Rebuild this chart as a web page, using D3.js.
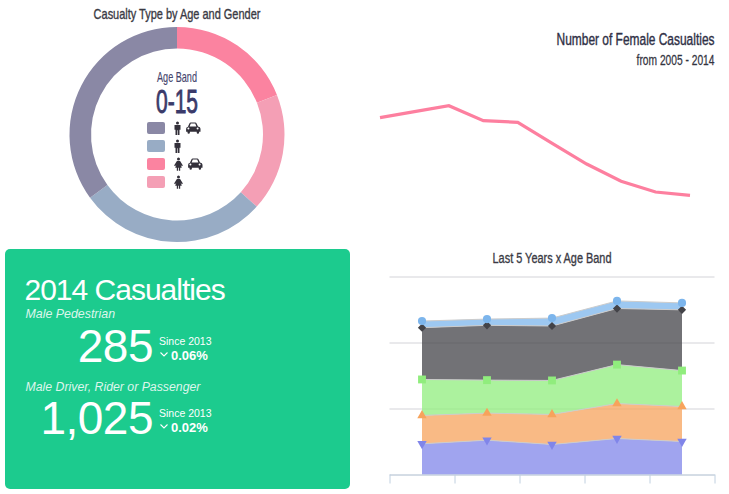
<!DOCTYPE html>
<html>
<head>
<meta charset="utf-8">
<script src="https://cdn.jsdelivr.net/npm/d3@7"></script>
<style>
body { margin: 0; background: #fff; }
svg { display: block; }
.osw { font-family: "Liberation Sans Narrow", "Liberation Sans", sans-serif; }
.ari { font-family: "Liberation Sans", Arial, sans-serif; }
</style>
</head>
<body>
<svg id="chart" width="729" height="494"></svg>
<script>
// donut values, clockwise from the top
var typeNames = ["Female driver, rider or passenger", "Female pedestrian", "Male pedestrian", "Male driver, rider or passenger"];
var typeValues = [19, 17.7, 28.3, 35];
var typeColors = ["#fb83a0", "#f49fb5", "#98acc5", "#8a88a5"];

// female casualties line
var lineYears = [2005, 2006, 2007, 2008, 2009, 2010, 2011, 2012, 2013, 2014];
var femaleCasualties = [1023, 1083, 1143, 993, 977, 767, 560, 387, 280, 247];

// stacked area, bottom series first
var areaYears = [2010, 2011, 2012, 2013, 2014];
var areaBand0 = [930, 1040, 910, 1090, 1000];
var areaBand1 = [860, 820, 910, 1060, 1060];
var areaBand2 = [1090, 1000, 1030, 1180, 1090];
var areaBand3 = [1570, 1660, 1650, 1700, 1840];
var areaBand4 = [200, 190, 240, 230, 210];
var areaColors = ["#8085e9", "#f7a35c", "#90ed7d", "#434348", "#7cb5ec"];
var yTicks = [0, 2000, 4000, 6000];

var svg = d3.select("#chart");

// title text, squeezed sideways to the measured width
function label(x, y, txt, size, anchor, len, color, weight) {
  var t = svg.append("text")
    .attr("class", "osw")
    .attr("text-anchor", anchor)
    .style("font-size", size + "px")
    .style("fill", color)
    .style("stroke", color)
    .style("stroke-width", weight)
    .text(txt);
  var k = len / t.node().getComputedTextLength();
  t.attr("transform", "translate(" + x + "," + y + ") scale(" + k + ",1)");
  return t;
}

// ---- donut
var donut = svg.append("g").attr("transform", "translate(177,134.5)");
var pie = d3.pie().sort(null)(typeValues);
var arc = d3.arc().innerRadius(86).outerRadius(107.5);
donut.selectAll("path")
  .data(pie)
  .enter()
  .append("path")
  .attr("d", arc)
  .attr("fill", function(d, i) { return typeColors[i]; });

label(177, 18.5, "Casualty Type by Age and Gender", 15, "middle", 167, "#3a3a44", 0.35);
label(177, 82, "Age Band", 14, "middle", 40, "#46466e", 0.15);
label(177, 113, "0-15", 33, "middle", 42, "#3a3a6a", 0.9);

// legend, rows run the other way round from the slices
var legendRows = [3, 2, 0, 1];
var legendY = d3.scalePoint().domain(legendRows).range([128, 182]);
var manPath = "M-1.5,-5.6a1.5,1.5 0 1,0 3,0a1.5,1.5 0 1,0 -3,0M-3,-3.4h6v4.6h-1v5.4h-1.7v-4.8h-0.6v4.8h-1.7v-5.4h-1z";
var womanPath = "M-1.5,-5.6a1.5,1.5 0 1,0 3,0a1.5,1.5 0 1,0 -3,0M-1.6,-3.4h3.2l2.8,4.4l-1.1,0.7l-1.2,-1.6l1.2,3.2h-1.6v2.9h-1.3v-2.9h-0.8v2.9h-1.3v-2.9h-1.6l1.2,-3.2l-1.2,1.6l-1.1,-0.7z";
var carPath = "M-5,-1.4l1.4,-3.2q0.4,-1 1.4,-1h4.4q1,0 1.4,1l1.4,3.2q2.5,0.3 2.5,2.2v3h-1.4v0.8a1.2,1.2 0 0,1 -2.4,0v-0.8h-6.8v0.8a1.2,1.2 0 0,1 -2.4,0v-0.8h-1.4v-3q0,-1.9 2.5,-2.2zM-3.4,-1.5h6.8l-1.2,-2.9h-4.4zM-5.6,0.4a1,1 0 1,0 2,0a1,1 0 1,0 -2,0M3.6,0.4a1,1 0 1,0 2,0a1,1 0 1,0 -2,0z";

legendRows.forEach(function(k) {
  var cy = legendY(k);
  svg.append("rect")
    .attr("x", 147)
    .attr("y", cy - 6)
    .attr("width", 18)
    .attr("height", 12)
    .attr("rx", 2)
    .attr("fill", typeColors[k]);
  var female = k < 2;
  svg.append("path")
    .attr("transform", "translate(" + (female ? 178.5 : 177.5) + "," + (cy + 0.5) + ")")
    .attr("d", female ? womanPath : manPath)
    .attr("fill", "#33303a");
  if (k == 0 || k == 3) {
    svg.append("path")
      .attr("transform", "translate(" + (female ? 195 : 193) + "," + cy + ")")
      .attr("d", carPath)
      .attr("fill", "#33303a")
      .attr("fill-rule", "evenodd");
  }
});

// ---- female line
label(714.5, 45, "Number of Female Casualties", 17, "end", 158, "#2f3046", 0.4);
label(714.5, 64.5, "from 2005 - 2014", 14, "end", 78, "#33343f", 0.25);

var lineX = d3.scalePoint().domain(lineYears).range([380, 690]);
var lineY = d3.scaleLinear().domain([0, 1000]).range([220, 120]);
svg.append("path")
  .datum(femaleCasualties)
  .attr("fill", "none")
  .attr("stroke", "#fd7f9f")
  .attr("stroke-width", 3.2)
  .attr("d", d3.line()
    .x(function(d, i) { return lineX(lineYears[i]); })
    .y(function(d) { return lineY(d); }));

// ---- green panel
svg.append("rect")
  .attr("x", 5)
  .attr("y", 249)
  .attr("width", 345)
  .attr("height", 240)
  .attr("rx", 5)
  .attr("fill", "#1ccb8e");

function panelText(x, y, txt, size, anchor, extra) {
  var t = svg.append("text")
    .attr("class", "ari")
    .attr("x", x)
    .attr("y", y)
    .attr("text-anchor", anchor)
    .style("font-size", size + "px")
    .style("fill", "#fff")
    .text(txt);
  if (extra) extra(t);
  return t;
}
function italic(t) { t.style("font-style", "italic").style("fill", "#dcf6ec"); }
function bold(t) { t.style("font-weight", "bold"); }
function tight(t) { t.style("letter-spacing", "-1px"); }
function tightNum(t) { t.style("letter-spacing", "-0.5px"); }
function chevron(x, y) {
  svg.append("path")
    .attr("d", "M" + x + "," + y + "l3.5,3.5l3.5,-3.5")
    .attr("fill", "none")
    .attr("stroke", "#fff")
    .attr("stroke-width", 1.1);
}

panelText(24.5, 300, "2014 Casualties", 30, "start", tight);
panelText(25.5, 318, "Male Pedestrian", 12.4, "start", italic);
panelText(153, 361.5, "285", 46, "end", tightNum);
panelText(159, 345, "Since 2013", 10.5, "start");
chevron(160.5, 352.5);
panelText(171, 360, "0.06%", 13, "start", bold);

panelText(25.5, 390.5, "Male Driver, Rider or Passenger", 12.3, "start", italic);
panelText(153, 434, "1,025", 46, "end", tightNum);
panelText(159, 417, "Since 2013", 10.5, "start");
chevron(160.5, 424.5);
panelText(171, 432, "0.02%", 13, "start", bold);

// ---- stacked area
label(552, 263, "Last 5 Years x Age Band", 15, "middle", 119, "#3a3a44", 0.35);

var areaSeries = [areaBand0, areaBand1, areaBand2, areaBand3, areaBand4];
var rows = areaYears.map(function(yr, i) {
  var row = { year: yr };
  areaSeries.forEach(function(s, k) { row["s" + k] = s[i]; });
  return row;
});
var stacked = d3.stack().keys(areaSeries.map(function(s, k) { return "s" + k; }))(rows);

var x = d3.scaleBand().domain(areaYears).range([389.5, 714.5]);
var xEdge = d3.scaleLinear().domain([0, 5]).range([389.5, 714.5]);
var y = d3.scaleLinear().domain([0, 6000]).range([474.5, 276.5]);
function cx(d) { return x(d.data.year) + x.bandwidth() / 2; }

// gridlines
svg.append("g")
  .attr("transform", "translate(389.5,0)")
  .call(d3.axisLeft(y).tickValues(yTicks).tickSize(-325).tickFormat(""))
  .call(function(g) {
    g.select(".domain").remove();
    g.selectAll("line").attr("stroke", "#d3d3d8");
  });

var area = d3.area()
  .x(cx)
  .y0(function(d) { return y(d[0]); })
  .y1(function(d) { return y(d[1]); });
var topLine = d3.line().x(cx).y(function(d) { return y(d[1]); });

svg.selectAll(".band")
  .data(stacked)
  .enter()
  .append("path")
  .attr("class", "band")
  .attr("d", area)
  .attr("fill", function(d, i) { return areaColors[i]; })
  .attr("fill-opacity", 0.75);

svg.selectAll(".edge")
  .data(stacked)
  .enter()
  .append("path")
  .attr("class", "edge")
  .attr("d", topLine)
  .attr("fill", "none")
  .attr("stroke", "#ccc")
  .attr("stroke-width", 1);

// markers, one shape per series
var symbols = [
  d3.symbol().type(d3.symbolTriangle).size(38),
  d3.symbol().type(d3.symbolTriangle).size(38),
  d3.symbol().type(d3.symbolSquare).size(62),
  d3.symbol().type(d3.symbolSquare).size(34),
  d3.symbol().type(d3.symbolCircle).size(52)
];
var markTurn = [180, 0, 0, 45, 0];
stacked.forEach(function(s, k) {
  svg.selectAll(".mark" + k)
    .data(s)
    .enter()
    .append("path")
    .attr("class", "mark" + k)
    .attr("d", symbols[k]())
    .attr("fill", areaColors[k])
    .attr("transform", function(d) {
      return "translate(" + cx(d) + "," + y(d[1]) + ") rotate(" + markTurn[k] + ")";
    });
});

// x axis, ticks at the band edges and no labels
svg.append("g")
  .attr("transform", "translate(0,474.5)")
  .call(d3.axisBottom(xEdge).tickValues(d3.range(6)).tickSize(9).tickSizeOuter(0).tickFormat(""))
  .call(function(g) {
    g.selectAll("line").attr("stroke", "#c0d0e0");
    g.select(".domain").attr("stroke", "#c0d0e0");
  });
</script>
</body>
</html>
